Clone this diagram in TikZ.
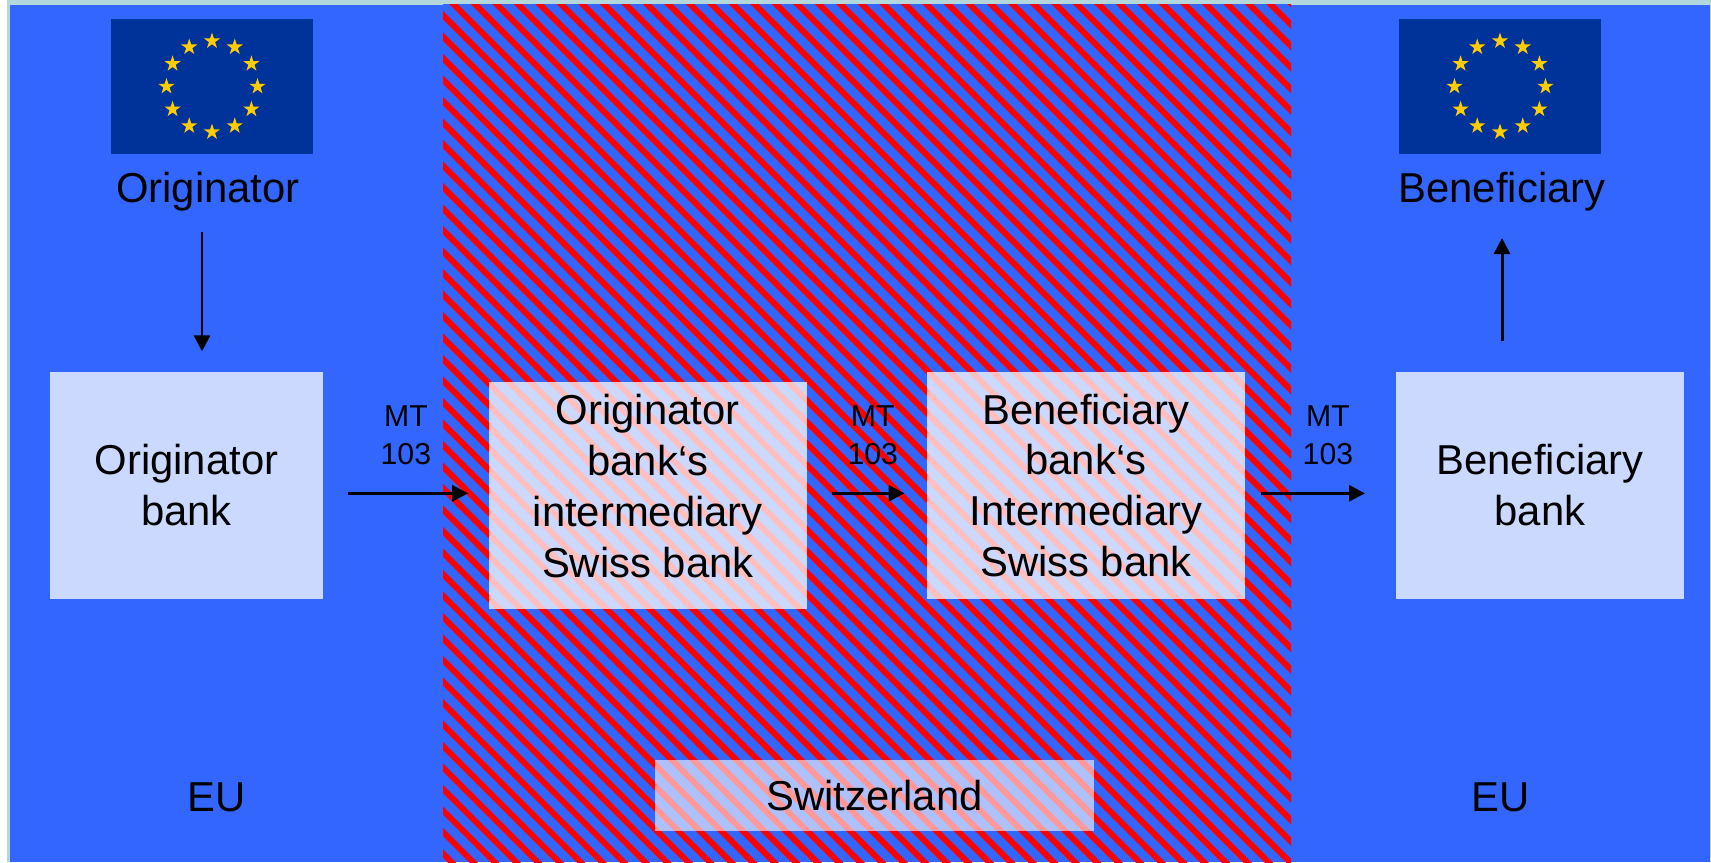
\documentclass[tikz,border=0pt]{standalone}
\usepackage{fontspec}
\setmainfont{Liberation Sans}
\usetikzlibrary{arrows.meta,shapes.geometric}
\definecolor{eubg}{RGB}{51,102,255}
\definecolor{eunavy}{RGB}{0,51,153}
\definecolor{eugold}{RGB}{255,204,0}
\definecolor{framecol}{RGB}{180,215,222}

\begin{document}
\begin{tikzpicture}[
  bankbox/.style={fill=white, fill opacity=0.75, text opacity=1, align=center,
    inner sep=0pt, font=\fontsize{11.9}{14.5}\selectfont},
  big/.style={inner sep=0pt, font=\fontsize{11.9}{14.5}\selectfont},
  mt/.style={align=center, inner sep=0pt, font=\fontsize{8.6}{11}\selectfont},
  flow/.style={-{Triangle[length=0.16cm,width=0.16cm]}, line width=0.85pt},
  flag/.style={fill=eunavy, minimum width=2.02cm, minimum height=1.35cm, inner sep=0pt},
  eustar/.style={star, star points=5, star point ratio=2.618, fill=eugold,
    inner sep=0pt, minimum size=0.17cm}
]
  \useasboundingbox (0,0) rectangle (17.11,8.62);
  % background
  \fill[white] (0,0) rectangle (17.11,8.62);
  \fill[framecol] (0.07,0) rectangle (17.11,8.62);
  \fill[eubg] (0.10,0) rectangle (17.10,8.57);
  % Swiss strip
  \begin{scope}
    \clip (4.43,0) rectangle (12.91,8.58);
    \fill[eubg] (4.43,0) rectangle (12.91,8.58);
    \foreach \s in {0,...,82}
      \draw[red, line width=0.06cm] ({-4.4+0.215*\s},8.7) -- ++(8.8,-8.8);
  \end{scope}

  % flags
  \node[flag] (flagO) at (2.12,7.755) {};
  \node[flag] (flagB) at (15.00,7.755) {};
  \foreach \f in {flagO,flagB}
    \foreach \a in {0,30,...,330}
      \node[eustar] at ([shift={(\a:0.455)}]\f.center) {};

  \node[big, anchor=base] (labO) at (2.08,6.593) {Originator};
  \node[big, anchor=base] (labB) at (15.02,6.593) {Beneficiary};

  % banks
  \node[bankbox, minimum width=2.73cm, minimum height=2.27cm] (b1) at (1.865,3.765) {Originator\\bank};
  \node[bankbox, minimum width=3.18cm, minimum height=2.27cm] (b2) at (6.478,3.663) {Originator\\bank‘s\\intermediary\\Swiss bank\rule[-0.2cm]{0pt}{0pt}};
  \node[bankbox, minimum width=3.18cm, minimum height=2.27cm] (b3) at (10.859,3.765) {Beneficiary\\bank‘s\\Intermediary\\Swiss bank};
  \node[bankbox, minimum width=2.88cm, minimum height=2.27cm] (b4) at (15.40,3.765) {Beneficiary\\bank};
  \node[bankbox, fill opacity=0.6, minimum width=4.39cm, minimum height=0.71cm] (sw) at (8.745,0.665) {Switzerland};

  \node[big, anchor=base] (euL) at (2.165,0.503) {EU};
  \node[big, anchor=base] (euR) at (15.01,0.503) {EU};

  % messages
  \coordinate (row) at (0,3.687);
  \draw[flow, shorten <=0.2cm, shorten >=0.2cm] ([xshift=-0.06cm]labO.south) -- ([xshift=-0.06cm]labO.south |- b1.north);
  \draw[flow, shorten <=0.3cm, shorten >=0.26cm] (labB.south |- b4.north) -- (labB.south);
  \draw[flow, shorten <=0.243cm, shorten >=0.2cm] (b1.east |- row) -- node[mt, above=0.266cm] (mt1) {MT\\103} (b2.west |- row);
  \draw[flow, shorten <=0.24cm, shorten >=0.217cm] (b2.east |- row) -- node[mt, pos=0.55, above=0.266cm] (mt2) {MT\\103} (b3.west |- row);
  \draw[flow, shorten <=0.157cm, shorten >=0.303cm] (b3.east |- row) -- node[mt, pos=0.55, above=0.266cm] (mt3) {MT\\103} (b4.west |- row);
\end{tikzpicture}
\end{document}
